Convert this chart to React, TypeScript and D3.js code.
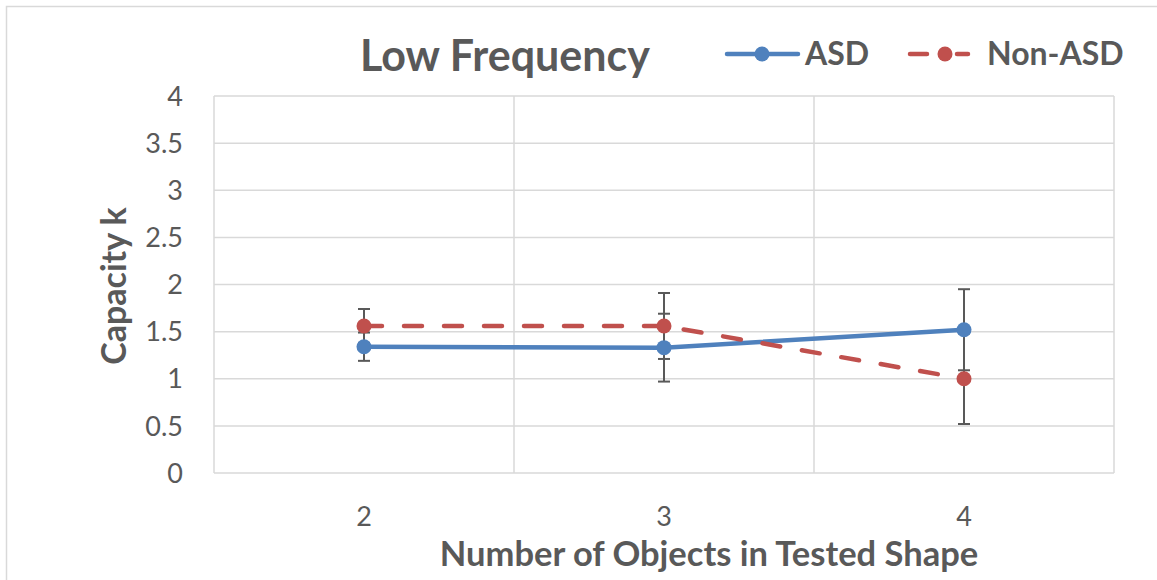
import React, { useEffect, useRef } from 'react'
import * as d3 from 'd3'

// values
const categories = ['2', '3', '4']
const asdValues = [1.34, 1.33, 1.52]
const nonAsdValues = [1.56, 1.56, 1.0]
const asdErrors = [0.15, 0.36, 0.43]
const nonAsdErrors = [0.18, 0.35, 0.48]
const yTicks = [0, 0.5, 1, 1.5, 2, 2.5, 3, 3.5, 4]

const W = 1157
const H = 580
const FONT = 'Lato, "Open Sans", sans-serif'
const TEXT = '#595959'
const GRID = '#D9D9D9'
const BLUE = '#4F81BD'
const RED = '#C0504D'

export default function App() {
  const ref = useRef<SVGSVGElement>(null)

  useEffect(() => {
    const svg = d3.select(ref.current)
    svg.selectAll('*').remove()

    const margin = { top: 96, right: 43, bottom: 107, left: 214 }
    const x = d3.scaleBand()
      .domain(categories)
      .range([margin.left, W - margin.right])
    const y = d3.scaleLinear()
      .domain([0, 4])
      .range([H - margin.bottom, margin.top])
    const cx = (d: string) => (x(d) as number) + x.bandwidth() / 2

    // chart border
    svg.append('rect')
      .attr('x', 6.5).attr('y', 6.5)
      .attr('width', W + 20).attr('height', H + 20)
      .attr('fill', 'white')
      .attr('stroke', GRID).attr('stroke-width', 1.5)

    // horizontal gridlines
    svg.append('g').selectAll('line')
      .data(yTicks)
      .enter().append('line')
      .attr('x1', margin.left).attr('x2', W - margin.right)
      .attr('y1', d => y(d)).attr('y2', d => y(d))
      .attr('stroke', GRID).attr('stroke-width', 1.5)

    // vertical gridlines at category boundaries
    const bounds = categories.map(c => x(c) as number).concat([x.range()[1]])
    svg.append('g').selectAll('line')
      .data(bounds)
      .enter().append('line')
      .attr('x1', d => d).attr('x2', d => d)
      .attr('y1', y(4)).attr('y2', y(0))
      .attr('stroke', GRID).attr('stroke-width', 1.5)

    // y tick labels
    svg.append('g').selectAll('text')
      .data(yTicks)
      .enter().append('text')
      .attr('x', 183)
      .attr('y', d => y(d))
      .attr('dy', '0.36em')
      .attr('text-anchor', 'end')
      .attr('font-family', FONT)
      .attr('font-size', 27)
      .attr('fill', TEXT)
      .text(d => String(d))

    // x tick labels
    svg.append('g').selectAll('text')
      .data(categories)
      .enter().append('text')
      .attr('x', d => cx(d))
      .attr('y', 526)
      .attr('text-anchor', 'middle')
      .attr('font-family', FONT)
      .attr('font-size', 27)
      .attr('fill', TEXT)
      .text(d => d)

    const series = [
      { name: 'ASD', values: asdValues, errors: asdErrors, color: BLUE, dash: null },
      { name: 'Non-ASD', values: nonAsdValues, errors: nonAsdErrors, color: RED, dash: '18 22' },
    ]

    // error bars
    series.forEach(s => {
      const g = svg.append('g').attr('stroke', TEXT).attr('stroke-width', 2)
      s.values.forEach((v, i) => {
        const px = cx(categories[i])
        const lo = y(v - s.errors[i])
        const hi = y(v + s.errors[i])
        g.append('line').attr('x1', px).attr('x2', px).attr('y1', lo).attr('y2', hi)
        g.append('line').attr('x1', px - 6).attr('x2', px + 6).attr('y1', lo).attr('y2', lo)
        g.append('line').attr('x1', px - 6).attr('x2', px + 6).attr('y1', hi).attr('y2', hi)
      })
    })

    const line = d3.line<number>()
      .x((_, i) => cx(categories[i]))
      .y(d => y(d))

    series.forEach(s => {
      svg.append('path')
        .datum(s.values)
        .attr('d', line)
        .attr('fill', 'none')
        .attr('stroke', s.color)
        .attr('stroke-width', 4.5)
        .attr('stroke-linecap', 'round')
        .attr('stroke-dasharray', s.dash)
      svg.append('g').selectAll('circle')
        .data(s.values)
        .enter().append('circle')
        .attr('cx', (_, i) => cx(categories[i]))
        .attr('cy', d => y(d))
        .attr('r', 7.5)
        .attr('fill', s.color)
    })

    // title
    svg.append('text')
      .attr('x', 505).attr('y', 71)
      .attr('text-anchor', 'middle')
      .attr('font-family', FONT)
      .attr('font-weight', 'bold')
      .attr('font-size', 43)
      .attr('fill', TEXT)
      .text('Low Frequency')

    // legend
    const legend = [
      { label: 'ASD', color: BLUE, dash: null, x0: 727, x1: 798, mx: 762, tx: 805 },
      { label: 'Non-ASD', color: RED, dash: '17 30', x0: 910, x1: 968, mx: 945, tx: 987 },
    ]
    legend.forEach(l => {
      svg.append('line')
        .attr('x1', l.x0).attr('x2', l.x1)
        .attr('y1', 54).attr('y2', 54)
        .attr('stroke', l.color).attr('stroke-width', 4.5)
        .attr('stroke-linecap', 'round')
        .attr('stroke-dasharray', l.dash)
      svg.append('circle')
        .attr('cx', l.mx).attr('cy', 54)
        .attr('r', 7.5).attr('fill', l.color)
      svg.append('text')
        .attr('x', l.tx).attr('y', 65)
        .attr('font-family', FONT)
        .attr('font-weight', 'bold')
        .attr('font-size', 32)
        .attr('fill', TEXT)
        .text(l.label)
    })

    // axis titles
    svg.append('text')
      .attr('transform', 'translate(126,286) rotate(-90)')
      .attr('text-anchor', 'middle')
      .attr('font-family', FONT)
      .attr('font-weight', 'bold')
      .attr('font-size', 34)
      .attr('fill', TEXT)
      .text('Capacity k')

    svg.append('text')
      .attr('x', 709).attr('y', 566)
      .attr('text-anchor', 'middle')
      .attr('font-family', FONT)
      .attr('font-weight', 'bold')
      .attr('font-size', 34.5)
      .attr('fill', TEXT)
      .text('Number of Objects in Tested Shape')
  }, [])

  return (
    <svg ref={ref} width={W} height={H}
      style={{ position: 'absolute', left: 0, top: 0, display: 'block' }} />
  )
}
